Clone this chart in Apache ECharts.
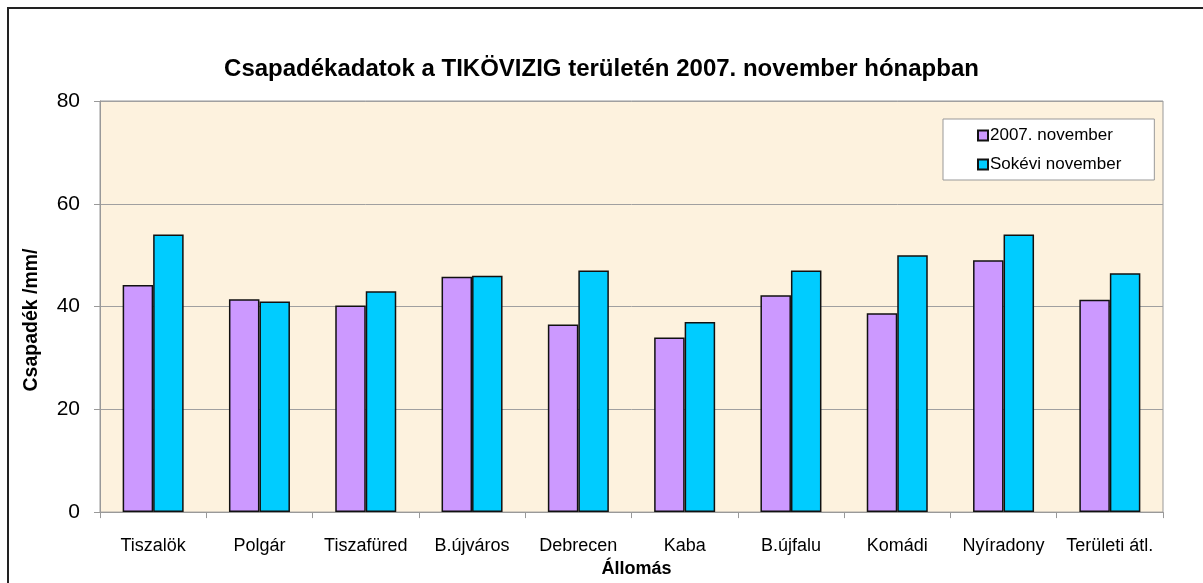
<!DOCTYPE html>
<html>
<head>
<meta charset="utf-8">
<script src="https://cdn.jsdelivr.net/npm/echarts@6/dist/echarts.min.js"></script>
<style>
html,body{margin:0;padding:0;background:#fff;}
#c{width:1203px;height:583px;}
</style>
</head>
<body>
<div id="c"></div>
<script>
const categories = ['Tiszalök','Polgár','Tiszafüred','B.újváros','Debrecen','Kaba','B.újfalu','Komádi','Nyíradony','Területi átl.'];
const nov2007 = [44.2, 41.4, 40.2, 45.8, 36.5, 34.0, 42.2, 38.7, 49.0, 41.3];
const longTerm = [54.0, 41.0, 43.0, 46.0, 47.0, 37.0, 47.0, 50.0, 54.0, 46.5];
const seriesNames = ['2007. november', 'Sokévi november'];
const yTicks = {min: 0, max: 80, interval: 20};

const FONT = '"Liberation Sans", Arial, sans-serif';
const chart = echarts.init(document.getElementById('c'));
chart.setOption({
  animation: false,
  backgroundColor: '#fff',
  textStyle: {fontFamily: FONT, color: '#000'},
  graphic: [{
    type: 'rect', silent: true, z: 0,
    shape: {x: 8, y: 8, width: 1300, height: 700},
    style: {fill: 'none', stroke: '#222', lineWidth: 2}
  }, {
    type: 'text', silent: true, z: 10,
    x: 32, y: 320, rotation: Math.PI / 2,
    style: {text: 'Csapadék /mm/', font: 'bold 19.5px "Liberation Sans", Arial, sans-serif',
            fill: '#000', align: 'center', verticalAlign: 'middle'}
  }],
  title: {
    text: 'Csapadékadatok a TIKÖVIZIG területén 2007. november hónapban',
    left: 'center', top: 57, padding: 0,
    textStyle: {fontFamily: FONT, fontSize: 24, fontWeight: 'bold', color: '#000'}
  },
  legend: {
    orient: 'vertical',
    left: 943, top: 119,
    padding: [8, 33, 7, 34],
    backgroundColor: '#fff',
    borderColor: '#999', borderWidth: 1,
    itemWidth: 10, itemHeight: 10, itemGap: 12,
    icon: 'rect',
    textStyle: {fontFamily: FONT, fontSize: 17, color: '#000', padding: [0,0,0,-3]},
    data: seriesNames
  },
  grid: {
    left: 100, top: 101, right: 40, bottom: 66,
    show: true, backgroundColor: '#FDF2DE', borderColor: '#999', borderWidth: 1
  },
  xAxis: {
    type: 'category', data: categories,
    name: 'Állomás', nameLocation: 'middle', nameGap: 42,
    nameTextStyle: {fontFamily: FONT, fontSize: 18, fontWeight: 'bold', color: '#000', padding: [0, 0, 0, 10]},
    axisLine: {lineStyle: {color: '#999'}},
    axisTick: {show: true, length: 6, lineStyle: {color: '#999'}},
    axisLabel: {fontFamily: FONT, fontSize: 18, color: '#000', margin: 25, interval: 0}
  },
  yAxis: {
    type: 'value', min: yTicks.min, max: yTicks.max, interval: yTicks.interval,
    axisLine: {show: true, lineStyle: {color: '#999'}},
    axisTick: {show: true, length: 6, lineStyle: {color: '#999'}},
    axisLabel: {fontFamily: FONT, fontSize: 21, color: '#000', margin: 20},
    splitLine: {lineStyle: {color: '#a0a0a0'}}
  },
  series: [
    {name: seriesNames[0], type: 'bar', data: nov2007, barWidth: 30.5, barGap: '0%',
     itemStyle: {color: '#CC99FF', borderColor: '#111', borderWidth: 1.5}},
    {name: seriesNames[1], type: 'bar', data: longTerm, barWidth: 30.5, barGap: '0%',
     itemStyle: {color: '#00CCFF', borderColor: '#111', borderWidth: 1.5}}
  ]
});
</script>
</body>
</html>
